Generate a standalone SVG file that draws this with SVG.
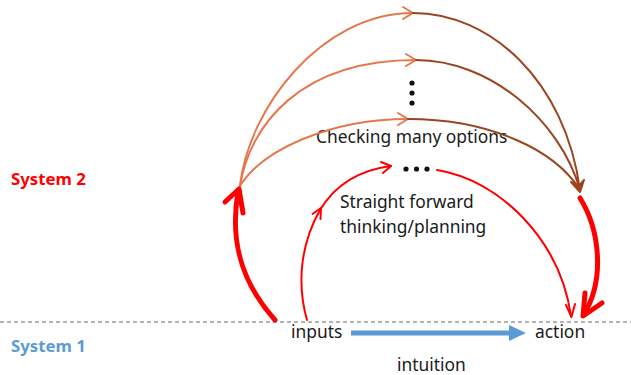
<svg xmlns="http://www.w3.org/2000/svg" width="631" height="375" viewBox="0 0 631 375">
<style>
.txt{font-family:"Noto Sans","Liberation Sans",sans-serif;font-size:17.4px;fill:#1a1a1a}
.sys{font-family:"Noto Sans","Liberation Sans",sans-serif;font-size:16.8px;font-weight:bold}
.or{fill:none;stroke:#E4784C;stroke-width:2;stroke-linecap:round;stroke-linejoin:round}
.br{fill:none;stroke:#9A4520;stroke-width:2;stroke-linecap:round;stroke-linejoin:round}
.rt{fill:none;stroke:#FF0000;stroke-width:2;stroke-linecap:round;stroke-linejoin:round}
.rk{fill:none;stroke:#FF0000;stroke-width:5;stroke-linecap:round;stroke-linejoin:round}
.dot{fill:#111}
</style>
<rect width="631" height="375" fill="#fff"/>
<line x1="0" y1="322" x2="631" y2="322" stroke="#666" stroke-width="1" stroke-dasharray="4,3"/>
<g id="labels">
<text class="sys" x="11" y="185" fill="#FF0000">System 2</text>
<text class="sys" x="11" y="352" fill="#5B9BD5">System 1</text>
</g>
<g id="inputs"><text class="txt" x="291" y="338">inputs</text></g>
<g id="action"><text class="txt" x="535" y="338">action</text></g>
<g id="intuition"><text class="txt" x="397" y="371">intuition</text></g>
<g id="checking"><text class="txt" x="316" y="143">Checking many options</text></g>
<g id="straight">
<text class="txt" x="340" y="208">Straight forward</text>
<text class="txt" x="340" y="233">thinking/planning</text>
</g>
<g id="dots">
<circle class="dot" cx="412" cy="83" r="2.6"/>
<circle class="dot" cx="412" cy="93" r="2.6"/>
<circle class="dot" cx="412" cy="103" r="2.6"/>
<circle class="dot" cx="406" cy="169" r="2.6"/>
<circle class="dot" cx="416.5" cy="169" r="2.6"/>
<circle class="dot" cx="427" cy="169" r="2.6"/>
</g>
<g id="connectors">
<!-- orange left halves -->
<path class="or" d="M240,186 C248,110 320,13 413,13"/>
<path class="or" d="M403,7 L413,13 L403,19"/>
<path class="or" d="M240,186 C250,125 300,60 416,60"/>
<path class="or" d="M406,54 L416,60 L406,66"/>
<path class="or" d="M240,186 C262,150 330,119 408,119"/>
<path class="or" d="M398,113 L408,119 L398,125"/>
<!-- brown right halves -->
<path class="br" d="M413,13 C490,13 565,80 580,190"/>
<path class="br" d="M416,60 C490,60 560,120 580,190"/>
<path class="br" d="M408,119 C490,119 555,150 580,190"/>
<path d="M571,182 L580,192 L584,180 L579,186 Z" fill="#9A4520" stroke="#9A4520" stroke-width="2" stroke-linejoin="round"/>
<!-- thick red -->
<path class="rk" d="M275,320 C248,290 228,250 238,192"/>
<path class="rk" d="M225,202 L239,189 L243,213"/>
<path class="rk" d="M580,198 C600,230 605,280 584,314"/>
<path class="rk" d="M585,293 L583,316 L602,303"/>
<!-- thin red -->
<path class="rt" d="M307,320 C297,285 300,245 320,210 C335,185 360,170 391,166"/>
<path class="rt" d="M312.5,214 L321,208 L320.5,219"/>
<path class="rt" d="M381,162 L391,166 L383,173"/>
<path class="rt" d="M437,170 C500,180 560,240 571,316"/>
<path class="rt" d="M566,305 L571.5,317 L575,304"/>
<!-- blue -->
<line x1="351" y1="333" x2="512" y2="333" stroke="#5B9BD5" stroke-width="5"/>
<polygon points="509,325 526,333 509,341" fill="#5B9BD5"/>
</g>
</svg>
